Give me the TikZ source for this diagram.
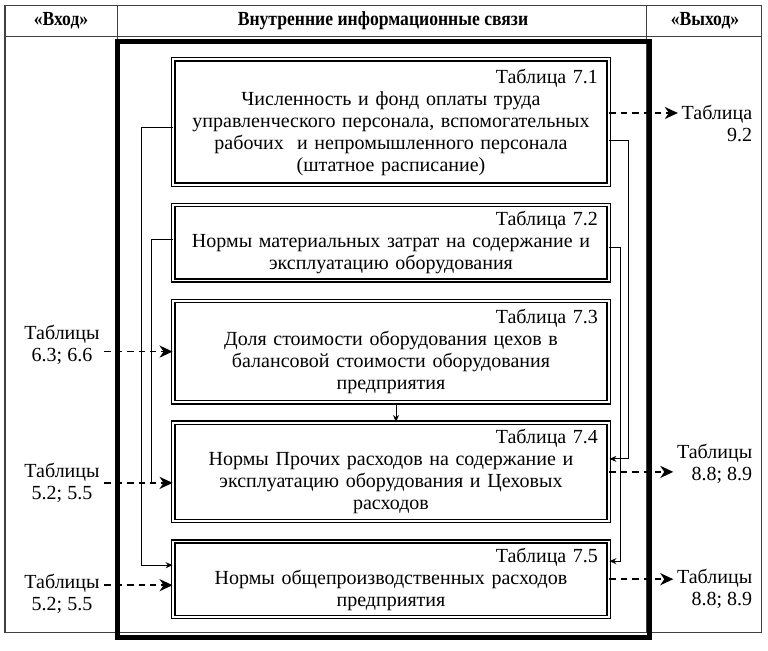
\documentclass[tikz,border=0pt]{standalone}
\usepackage{fontspec}
\setmainfont{Liberation Serif}
\newfontfamily\headfont[FakeStretch=0.88]{Liberation Serif}
\usepackage{tikz}
\usetikzlibrary{positioning, calc, arrows.meta}

\begin{document}
\begin{tikzpicture}[x=0.5pt, y=-0.5pt, node distance=9.5pt, thick]
        % Define block styles
        \tikzstyle{block} = [rectangle, draw, double, line width=0.7pt, double distance=0.9pt, text width=207pt, align=center, minimum width=217.7pt, inner sep=0pt, font=\fontsize{10}{11}\selectfont]
        \tikzstyle{head} = [font=\headfont\fontsize{10}{11}\selectfont\bfseries]
        \tikzstyle{side} = [align=center, inner sep=2pt, font=\fontsize{10}{11}\selectfont]
        \tikzstyle{link} = [line width=0.5pt, -{Stealth[length=3.5pt, width=3pt]}]
        \tikzstyle{plain} = [line width=0.5pt]
        \tikzstyle{flow} = [line width=0.9pt, dash pattern=on 3.2pt off 2.5pt, -{Stealth[length=6.5pt, width=6pt, inset=2pt]}]

        \useasboundingbox (0,0) rectangle (768,651);

        % Table grid
        \draw [line width=0.5pt, black!75] (5,6) rectangle (761,633);
        \draw [line width=0.5pt, black!75] (5,37) -- (761,37);
        \draw [line width=0.5pt, black!75] (117,6) -- (117,633);
        \draw [line width=0.5pt, black!75] (646,6) -- (646,633);
        \node [head] (inhead) at (61,21) {«Вход»};
        \node [head] (midhead) at (383,21) {Внутренние информационные связи};
        \node [head] (outhead) at (705,21) {«Выход»};

        % Outer frame
        \draw [line width=2.5pt] (117.5,41.5) rectangle (649.5,637.5);

        % Place nodes
        \node [block, minimum height=62.7pt] (b1) at (391,122) {\null\hfill Таблица 7.1\\ Численность и фонд оплаты труда\\ управленческого персонала, вспомогательных\\ рабочих\ \ и непромышленного персонала\\ (штатное расписание)};
        \node [block, minimum height=37.7pt, below=of b1] (b2) {\null\hfill Таблица 7.2\\ Нормы материальных затрат на содержание и\\ эксплуатацию оборудования};
        \node [block, minimum height=50.7pt, below=of b2] (b3) {\null\hfill Таблица 7.3\\ Доля стоимости оборудования цехов в\\ балансовой стоимости оборудования\\ предприятия};
        \node [block, minimum height=49.2pt, below=of b3] (b4) {\null\hfill Таблица 7.4\\ Нормы Прочих расходов на содержание и\\ эксплуатацию оборудования и Цеховых\\ расходов};
        \node [block, minimum height=37.7pt, below=of b4] (b5) {\null\hfill Таблица 7.5\\ Нормы общепроизводственных расходов\\ предприятия};

        % Inputs and outputs
        \node [side] (in3) at (62,345) {Таблицы\\6.3; 6.6};
        \node [side] (in4) at (62,483) {Таблицы\\5.2; 5.5};
        \node [side] (in5) at (62,594) {Таблицы\\5.2; 5.5};
        \node [side, align=right, anchor=north east] (out1) at (757,100) {Таблица\\9.2};
        \node [side, align=right, anchor=north east] (out4) at (757,439) {Таблицы\\8.8; 8.9};
        \node [side, align=right, anchor=north east] (out5) at (757,564) {Таблицы\\8.8; 8.9};

        \coordinate (b4in) at ([yshift=-5.5pt]b4.west);
        \coordinate (b5in) at ([yshift=-3pt]b5.west);
        \coordinate (b1out) at ([yshift=4.5pt]b1.east);

        % Draw connections as arrows
        \draw [flow] (in3.east |- b3.west) -- (b3.west);
        \draw [flow] (in4.east |- b4in) -- (b4in);
        \draw [flow] (in5.east |- b5in) -- (b5in);
        \draw [flow] (b1out) -- ([xshift=0.5pt]out1.west |- b1out);
        \draw [flow] (b4.east) -- ([xshift=0.5pt]out4.west |- b4.east);
        \draw [flow] (b5.east) -- ([xshift=0.5pt]out5.west |- b5.east);

        \draw [link] ([xshift=2.5pt]b3.south) -- ([xshift=2.5pt]b4.north);
        \draw [link] ([yshift=-3pt]b1.west) -- ++(-31,0) |- ([yshift=7pt]b5.west);
        \draw [plain] ([yshift=1.5pt]b2.west) -| ([xshift=-10.5pt]b2.west |- b4in);
        \draw [link] ([yshift=-9.5pt]b1.east) -- ++(19,0) |- ([yshift=6.5pt]b4.east);
        \draw [link] ([yshift=-2.5pt]b2.east) -- ++(11,0) |- ([yshift=9pt]b5.east);
    \end{tikzpicture}
\end{document}
